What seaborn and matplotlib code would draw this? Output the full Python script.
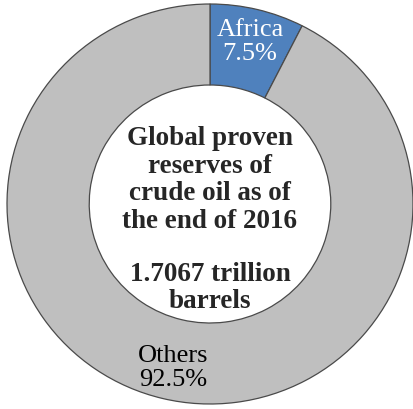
import matplotlib
matplotlib.use("Agg")
import matplotlib.pyplot as plt
import seaborn as sns

sns.set_style("white")
plt.rcParams["font.family"] = ["Liberation Serif", "DejaVu Serif"]

regions = ["Africa", "Others"]
shares = [7.5, 92.5]
colors = ["#4f81bd", "#bfbfbf"]
text_colors = ["white", "black"]
center_title = ["Global proven", "reserves of", "crude oil as of", "the end of 2016"]
center_total = ["1.7067 trillion", "barrels"]

fig = plt.figure(figsize=(4.14, 4.09), dpi=100)
ax = fig.add_axes([0, 0, 1, 1])

wedges, _ = ax.pie(
    shares,
    colors=colors,
    startangle=90,
    counterclock=False,
    radius=1.0,
    wedgeprops=dict(width=0.405, edgecolor="#4a4a4a", linewidth=0.9),
)

# segment labels
label_pos = [(0.197, 0.81), (-0.182, -0.82)]
for name, val, tc, (x, y) in zip(regions, shares, text_colors, label_pos):
    ax.text(x, y, f"{name}\n{val}%", ha="center", va="center",
            color=tc, fontsize=19, linespacing=1.12)

# centre annotation
ax.text(0.0, 0.12, "\n".join(center_title), ha="center", va="center",
        fontsize=19.5, fontweight="bold", linespacing=1.15)
ax.text(0.0, -0.42, "\n".join(center_total), ha="center", va="center",
        fontsize=19.5, fontweight="bold", linespacing=1.15)

ax.set_xlim(-210 / 203, (414 - 210) / 203)
ax.set_ylim(-(409 - 204) / 200, 204 / 200)
ax.set_aspect("auto")
ax.axis("off")

fig.savefig("out.png", dpi=100)
